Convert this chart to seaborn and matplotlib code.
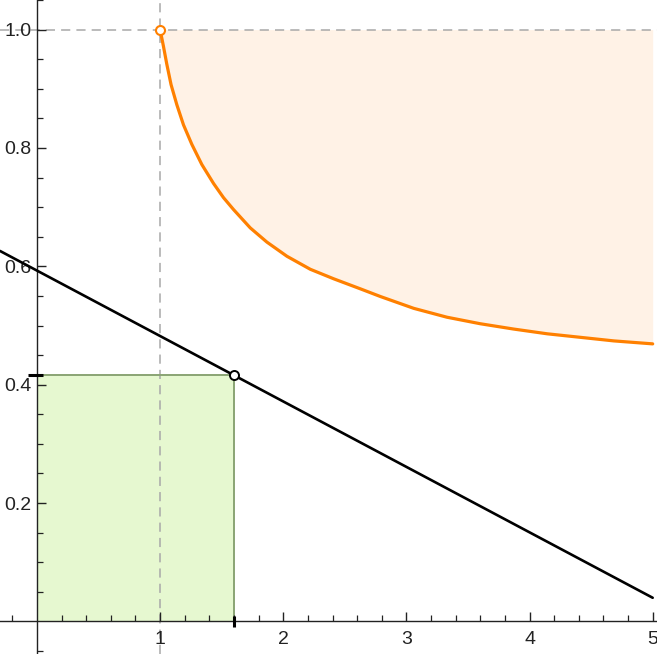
import matplotlib
matplotlib.use("Agg")
import matplotlib.pyplot as plt
import seaborn as sns
import pandas as pd
import numpy as np

# ---- data ----
curve_x = [1.0, 1.027, 1.054, 1.089, 1.136, 1.19, 1.258, 1.339, 1.434, 1.515,
           1.596, 1.732, 1.867, 2.03, 2.22, 2.409, 2.626, 2.789, 3.06, 3.33,
           3.60, 3.872, 4.144, 4.415, 4.685, 5.0]
curve_y = [1.0, 0.972, 0.942, 0.907, 0.873, 0.839, 0.806, 0.772, 0.740, 0.716,
           0.696, 0.665, 0.641, 0.617, 0.595, 0.579, 0.562, 0.549, 0.529, 0.514,
           0.503, 0.494, 0.486, 0.480, 0.474, 0.469]
line_x = [-0.30, 5.0]
line_y = [0.626, 0.040]
point_x = 1.6
point_y = 0.416
ref_x = 1.0
ref_y = 1.0
x_ticks = [1, 2, 3, 4, 5]
x_tick_labels = ["1", "2", "3", "4", "5"]
y_ticks = [0.2, 0.4, 0.6, 0.8, 1.0]
y_tick_labels = ["0.2", "0.4", "0.6", "0.8", "1.0"]
x_minor = [-0.2, 0.2, 0.4, 0.6, 0.8, 1.2, 1.4, 1.6, 1.8, 2.2, 2.4, 2.6, 2.8,
           3.2, 3.4, 3.6, 3.8, 4.2, 4.4, 4.6, 4.8]
y_minor = [-0.05, 0.05, 0.1, 0.15, 0.25, 0.3, 0.35, 0.45, 0.5, 0.55, 0.65, 0.7,
           0.75, 0.85, 0.9, 0.95, 1.05]

sns.set_style("ticks")
plt.rcParams["font.family"] = ["Liberation Sans", "DejaVu Sans"]
plt.rcParams["axes.axisbelow"] = False

W, H, DPI = 6.57, 6.54, 100
fig = plt.figure(figsize=(W, H), dpi=DPI)
ax = fig.add_axes([0, 0, 1, 1])

orange = "#ff8000"
axis_col = "#222222"
curve_df = pd.DataFrame({"x": curve_x, "y": curve_y})
line_df = pd.DataFrame({"x": line_x, "y": line_y})

XLIM = (-0.30, 5.035)
YLIM = (-0.055, 1.05)

# shaded region above the curve up to y=1
ax.fill_between(curve_x, curve_y, [ref_y] * len(curve_x), color="#fff2e6", lw=0, zorder=1)

# green rectangle
ax.fill_between([0, point_x], [0, 0], [point_y, point_y], facecolor="#e6f8d0",
                edgecolor="none", zorder=1)
ax.plot([0, point_x, point_x], [point_y, point_y, 0], color="#8aa474", lw=1.4, zorder=2)

# dashed reference lines
ax.axvline(ref_x, color="#a8a8a8", lw=1.1, ls=(0, (6, 4)), zorder=1.5)
ax.axhline(ref_y, color="#a8a8a8", lw=1.1, ls=(0, (6, 4)), zorder=1.5)

sns.lineplot(data=curve_df, x="x", y="y", ax=ax, color=orange, lw=2.3, sort=False,
             estimator=None, zorder=3)
sns.lineplot(data=line_df, x="x", y="y", ax=ax, color="black", lw=1.9, sort=False,
             estimator=None, zorder=3)

ax.plot([ref_x], [ref_y], "o", ms=6.5, mfc="white", mec=orange, mew=1.5, zorder=5,
        clip_on=False)
ax.plot([point_x], [point_y], "o", ms=6.5, mfc="white", mec="black", mew=1.4, zorder=5)

ax.set_xlim(*XLIM)
ax.set_ylim(*YLIM)

# axes through the origin
for s in ["top", "right"]:
    ax.spines[s].set_visible(False)
for s in ["left", "bottom"]:
    ax.spines[s].set_position(("data", 0))
    ax.spines[s].set_color(axis_col)
    ax.spines[s].set_linewidth(1.0)

ax.set_xticks(x_ticks, x_tick_labels)
ax.set_yticks(y_ticks, y_tick_labels)
ax.set_xticks(x_minor, minor=True)
ax.set_yticks(y_minor, minor=True)
ax.tick_params(which="major", direction="in", length=6.5, width=1.0, color=axis_col,
               labelsize=14, labelcolor=axis_col, bottom=True, left=True)
ax.tick_params(which="minor", direction="in", length=4, width=0.9, color=axis_col,
               bottom=True, left=True)
ax.tick_params(axis="x", which="major", pad=7)
ax.tick_params(axis="y", which="major", pad=4)
ax.set_xlabel("")
ax.set_ylabel("")

# highlighted ticks at the point
dy_per_px = (YLIM[1] - YLIM[0]) / (H * DPI)
dx_per_px = (XLIM[1] - XLIM[0]) / (W * DPI)
ax.vlines([point_x], -6 * dy_per_px, 5 * dy_per_px, color="black", lw=2.2, zorder=6,
          clip_on=False)
ax.hlines([point_y], -9 * dx_per_px, 6 * dx_per_px, color="black", lw=2.2, zorder=6,
          clip_on=False)

fig.savefig("out.png", dpi=DPI)
